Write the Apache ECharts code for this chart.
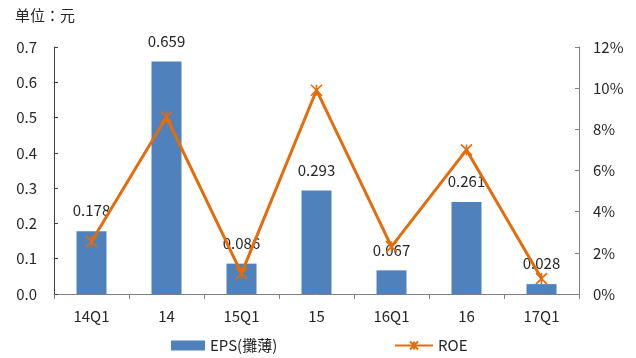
<!DOCTYPE html>
<html>
<head>
<meta charset="utf-8">
<script src="https://cdn.jsdelivr.net/npm/echarts@6/dist/echarts.min.js"></script>
<style>
html,body{margin:0;padding:0;background:#fff;}
#chart{width:636px;height:358px;}
</style>
</head>
<body>
<div id="chart"></div>
<script>
// Quarterly / annual EPS and ROE
const categories = ['14Q1', '14', '15Q1', '15', '16Q1', '16', '17Q1'];
const epsValues = [0.178, 0.659, 0.086, 0.293, 0.067, 0.261, 0.028];
const roeValues = [2.55, 8.6, 1.0, 9.9, 2.3, 7.0, 0.75];
const epsTicks = [0, 0.1, 0.2, 0.3, 0.4, 0.5, 0.6, 0.7];
const roeTicks = [0, 2, 4, 6, 8, 10, 12];

const FONT = '"Noto Sans CJK TC", "Noto Sans", sans-serif';
const BLUE = '#4F81BD';
const ORANGE = '#E46C0A';
const TEXT = '#262626';
const FS = 15;

const chart = echarts.init(document.getElementById('chart'));
chart.setOption({
  animation: false,
  backgroundColor: '#fff',
  textStyle: { fontFamily: FONT },
  graphic: [{
    type: 'text', left: 15, top: 8,
    style: { text: '单位：元', font: FS + 'px ' + FONT, fill: TEXT }
  }],
  legend: [{
    bottom: 0, left: 166,
    itemWidth: 34, itemHeight: 10, itemGap: 6,
    textStyle: { fontSize: FS, color: TEXT, fontFamily: FONT },
    data: [{ name: 'EPS(攤薄)', icon: 'rect' }]
  }, {
    bottom: 0, left: 389,
    itemWidth: 38, itemHeight: 10,
    textStyle: { fontSize: FS, color: TEXT, fontFamily: FONT },
    data: [{ name: 'ROE' }]
  }],
  grid: { left: 54, right: 57, top: 47, bottom: 64 },
  xAxis: {
    type: 'category',
    data: categories,
    axisLine: { lineStyle: { color: '#808080', width: 1 } },
    axisTick: { show: true, length: 5, alignWithLabel: false, lineStyle: { color: '#808080' } },
    axisLabel: { fontSize: FS, color: TEXT, margin: 15 }
  },
  yAxis: [{
    type: 'value', min: 0, max: 0.7, interval: 0.1,
    axisLine: { show: true, lineStyle: { color: '#404040' } },
    axisTick: { show: true, inside: true, length: 4, lineStyle: { color: '#404040' } },
    splitLine: { show: false },
    axisLabel: { fontSize: FS, color: TEXT, margin: 17, formatter: v => v.toFixed(1) }
  }, {
    type: 'value', min: 0, max: 12, interval: 2,
    axisLine: { show: true, lineStyle: { color: '#808080' } },
    axisTick: { show: true, inside: true, length: 4, lineStyle: { color: '#808080' } },
    splitLine: { show: false },
    axisLabel: { fontSize: FS, color: TEXT, margin: 14, formatter: v => v + '%' }
  }],
  series: [{
    name: 'EPS(攤薄)',
    type: 'bar',
    data: epsValues,
    barWidth: '40%',
    itemStyle: { color: BLUE },
    label: {
      show: true, position: 'top', distance: 13,
      fontSize: FS, color: TEXT, fontFamily: FONT,
      formatter: p => p.value.toFixed(3)
    }
  }, {
    name: 'ROE',
    type: 'line',
    yAxisIndex: 1,
    data: roeValues,
    symbol: 'path://M0,0L10,10M10,0L0,10M5,0L5,10',
    symbolSize: 11,
    lineStyle: { color: ORANGE, width: 3 },
    itemStyle: { color: ORANGE, borderColor: ORANGE, borderWidth: 1.6 },
    z: 3
  }]
});
</script>
</body>
</html>
